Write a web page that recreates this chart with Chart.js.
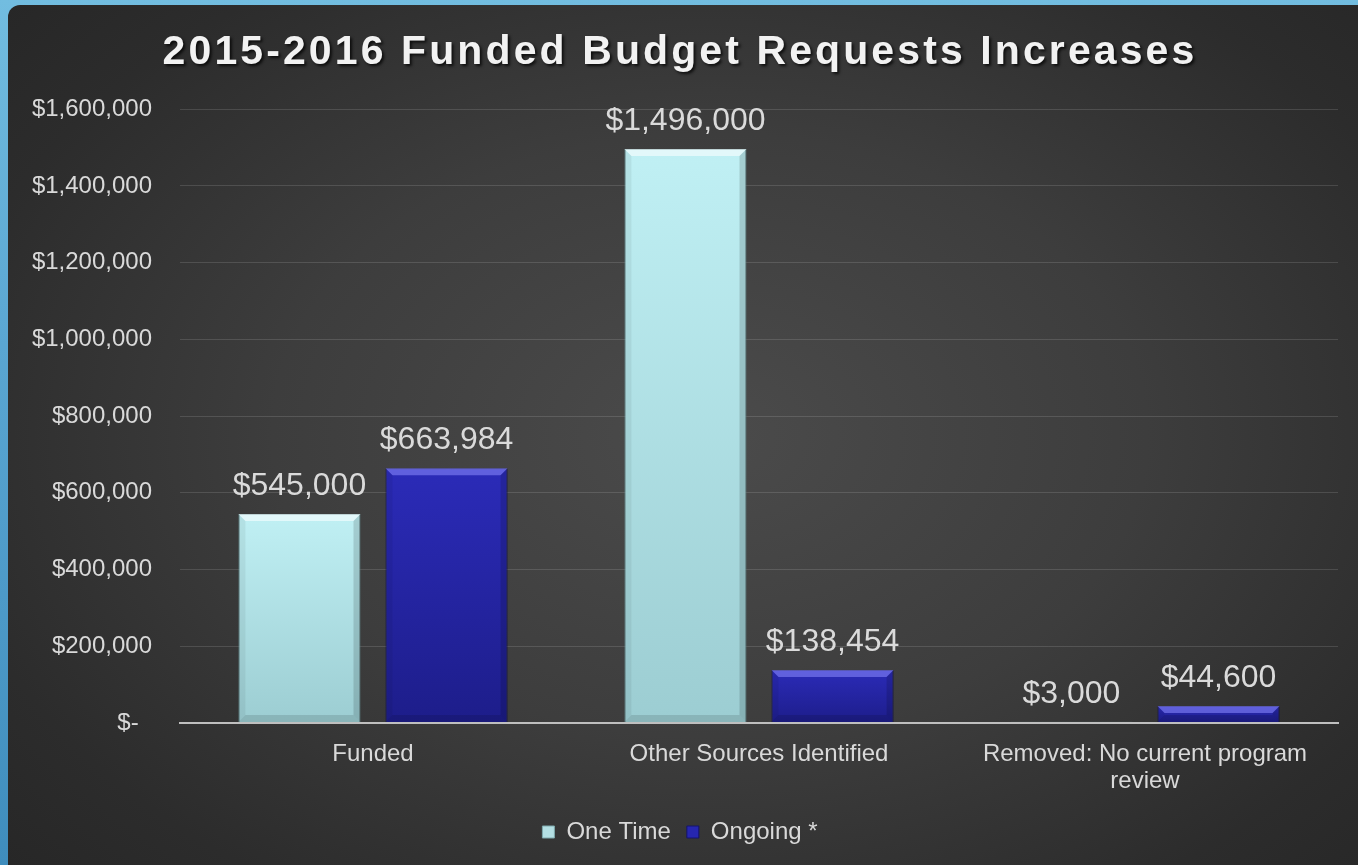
<!DOCTYPE html>
<html>
<head>
<meta charset="utf-8">
<script src="https://cdn.jsdelivr.net/npm/chart.js@4.4.1/dist/chart.umd.min.js"></script>
<style>
  html, body { margin: 0; padding: 0; width: 1358px; height: 865px; overflow: hidden; }
  body { background: linear-gradient(180deg, #72bde0 0%, #5aa6d2 40%, #3f8dbd 100%); position: relative; }
  #panel {
    position: absolute; left: 8px; top: 5px; width: 1350px; height: 860px;
    border-top-left-radius: 12px; overflow: hidden;
    background: radial-gradient(ellipse 72% 78% at 52% 50%, #4b4b4b 0%, #3d3d3d 45%, #2c2c2c 80%, #262626 100%);
  }
</style>
</head>
<body>
<div id="panel"><canvas id="c"></canvas></div>
<script>
// ---- data ----
const categories = ["Funded", "Other Sources Identified", ["Removed: No current program", "review"]];
const oneTime = [545000, 1496000, 3000];
const ongoing = [663984, 138454, 44600];
const seriesNames = ["One Time", "Ongoing *"];
const yTickValues = [0, 200000, 400000, 600000, 800000, 1000000, 1200000, 1400000, 1600000];
const titleText = "2015-2016 Funded Budget Requests Increases";

const FONT = '"Liberation Sans", Arial, Helvetica, sans-serif';
Chart.defaults.font.family = FONT;

function money(v) {
  return v === 0 ? '$-  ' : '$' + v.toLocaleString('en-US');
}

function barGradient(top, bottom) {
  return function(ctx) {
    const chart = ctx.chart;
    if (!chart.chartArea || ctx.type !== 'data') return top;
    const ys = chart.scales.y;
    const v = ctx.raw;
    const y0 = ys.getPixelForValue(v);
    const y1 = ys.getPixelForValue(0);
    if (!isFinite(y0) || Math.abs(y1 - y0) < 1) return top;
    const g = chart.ctx.createLinearGradient(0, y0, 0, y1);
    g.addColorStop(0, top);
    g.addColorStop(1, bottom);
    return g;
  };
}

const titleSpacing = {
  id: 'titleSpacing',
  beforeDraw(chart) {
    const tb = chart.titleBlock;
    if (tb && !tb._patched) {
      const orig = tb.draw;
      tb.draw = function(...a) {
        const ctx = this.ctx;
        ctx.save();
        ctx.letterSpacing = '3.1px';
        ctx.shadowColor = 'rgba(0,0,0,0.75)';
        ctx.shadowOffsetX = 2; ctx.shadowOffsetY = 2; ctx.shadowBlur = 3;
        orig.apply(this, a);
        ctx.restore();
      };
      tb._patched = true;
    }
  }
};

const bevel = {
  id: 'bevel',
  afterDatasetsDraw(chart) {
    const ctx = chart.ctx;
    ctx.save();
    chart.data.datasets.forEach((ds, i) => {
      const light = i === 0 ? 'rgba(255,255,255,0.55)' : 'rgba(140,140,255,0.55)';
      chart.getDatasetMeta(i).data.forEach((bar) => {
        const p = bar.getProps(['x', 'y', 'base', 'width'], true);
        const l = p.x - p.width / 2, r = p.x + p.width / 2;
        const top = Math.min(p.y, p.base), bot = Math.max(p.y, p.base);
        const b = Math.min(7, (bot - top) / 2);
        if (b < 1) return;
        ctx.fillStyle = light;
        ctx.beginPath();
        ctx.moveTo(l, top); ctx.lineTo(r, top); ctx.lineTo(r - b, top + b); ctx.lineTo(l + b, top + b); ctx.closePath();
        ctx.fill();
        ctx.fillStyle = 'rgba(0,0,0,0.06)';
        ctx.beginPath();
        ctx.moveTo(l, top); ctx.lineTo(l + b, top + b); ctx.lineTo(l + b, bot - b); ctx.lineTo(l, bot); ctx.closePath();
        ctx.fill();
        ctx.fillStyle = 'rgba(0,0,0,0.14)';
        ctx.beginPath();
        ctx.moveTo(r, top); ctx.lineTo(r - b, top + b); ctx.lineTo(r - b, bot - b); ctx.lineTo(r, bot); ctx.closePath();
        ctx.fill();
        ctx.fillStyle = 'rgba(0,0,0,0.12)';
        ctx.beginPath();
        ctx.moveTo(l, bot); ctx.lineTo(l + b, bot - b); ctx.lineTo(r - b, bot - b); ctx.lineTo(r, bot); ctx.closePath();
        ctx.fill();
      });
    });
    ctx.restore();
  }
};

const valueLabels = {
  id: 'valueLabels',
  afterDatasetsDraw(chart) {
    const ctx = chart.ctx;
    ctx.save();
    ctx.font = '32px ' + FONT;
    ctx.fillStyle = '#dadada';
    ctx.textAlign = 'center';
    ctx.textBaseline = 'alphabetic';
    chart.data.datasets.forEach((ds, i) => {
      chart.getDatasetMeta(i).data.forEach((bar, j) => {
        const p = bar.getProps(['x', 'y'], true);
        ctx.fillText(money(ds.data[j]), p.x, p.y - 19);
      });
    });
    ctx.restore();
  }
};

new Chart(document.getElementById('c'), {
  type: 'bar',
  data: {
    labels: categories,
    datasets: [
      { label: seriesNames[0], data: oneTime,
        backgroundColor: barGradient('#c0f0f4', '#9ccdd2'),
        borderColor: 'rgba(120,170,175,0.9)', borderWidth: 1,
        categoryPercentage: 0.762, barPercentage: 0.83 },
      { label: seriesNames[1], data: ongoing,
        backgroundColor: barGradient('#2b2bb8', '#1d1d8a'),
        borderColor: 'rgba(20,20,90,0.9)', borderWidth: 1,
        categoryPercentage: 0.762, barPercentage: 0.83 }
    ]
  },
  options: {
    responsive: true,
    maintainAspectRatio: false,
    animation: false,
    layout: { padding: { left: 14, right: 20, top: 0, bottom: 11 } },
    plugins: {
      title: {
        display: true, text: titleText, color: '#f2f2f2',
        font: { size: 41, weight: 'bold', family: FONT, lineHeight: 1.2 },
        padding: { top: 23, bottom: 32 }
      },
      legend: {
        position: 'bottom',
        labels: {
          color: '#d9d9d9', font: { size: 24, family: FONT },
          boxWidth: 12, boxHeight: 12, padding: 16,
          generateLabels() {
            return [
              { text: seriesNames[0], fillStyle: '#b3dfe3', strokeStyle: '#7fa9ad', lineWidth: 1, datasetIndex: 0, fontColor: '#d9d9d9' },
              { text: seriesNames[1], fillStyle: '#2626b0', strokeStyle: '#14146a', lineWidth: 1, datasetIndex: 1, fontColor: '#d9d9d9' }
            ];
          }
        }
      },
      tooltip: { enabled: false }
    },
    scales: {
      x: {
        grid: { display: false, drawTicks: false },
        border: { display: true, color: '#bfbfbf', width: 2 },
        ticks: { color: '#d9d9d9', font: { size: 24, family: FONT, lineHeight: 1.13 }, padding: 18, autoSkip: false, maxRotation: 0 },
        afterFit(s) { s.height = 81; }
      },
      y: {
        min: 0, max: 1600000,
        afterBuildTicks(s) { s.ticks = yTickValues.map(v => ({ value: v })); },
        grid: {
          drawTicks: false,
          color: (c) => c.tick && c.tick.value === 0 ? '#bfbfbf' : 'rgba(255,255,255,0.13)',
          lineWidth: (c) => c.tick && c.tick.value === 0 ? 2 : 1
        },
        border: { display: false },
        ticks: { color: '#d9d9d9', font: { size: 24, family: FONT }, padding: 28, callback: (v) => money(v) },
        afterFit(s) { s.width = 158; }
      }
    }
  },
  plugins: [titleSpacing, bevel, valueLabels]
});
</script>
</body>
</html>
